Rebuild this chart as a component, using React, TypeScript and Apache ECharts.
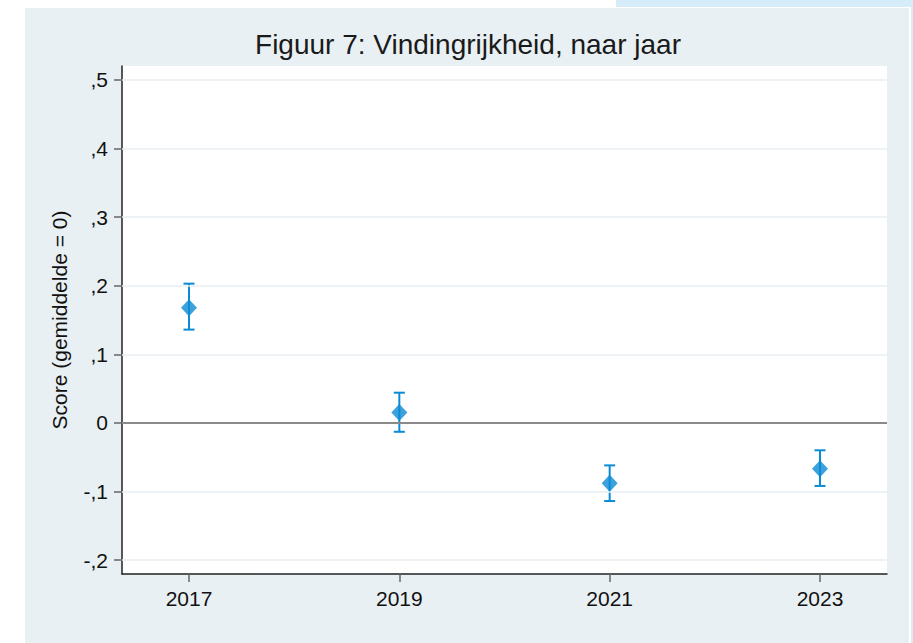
import React, { useEffect, useRef } from "react";
import * as echarts from "echarts";

const years = [2017, 2019, 2021, 2023];
const scores = [0.168, 0.015, -0.088, -0.067];
const lower = [0.136, -0.013, -0.114, -0.092];
const upper = [0.203, 0.044, -0.062, -0.040];
const yTicks = [-0.2, -0.1, 0, 0.1, 0.2, 0.3, 0.4, 0.5];
const titleText = "Figuur 7: Vindingrijkheid, naar jaar";
const yName = "Score (gemiddelde = 0)";

const BLUE = "#0a8bd4";
const FONT = "Liberation Sans, Arial, sans-serif";

function fmt(v: number): string {
  const r = Math.round(v * 10) / 10;
  if (Math.abs(r) < 1e-9) return "0";
  const s = Math.abs(r).toFixed(1).replace(/^0\./, ",");
  return (r < 0 ? "-" : "") + s;
}

export default function App() {
  const ref = useRef<HTMLDivElement>(null);
  useEffect(() => {
    if (!ref.current) return;
    const chart = echarts.init(ref.current, undefined, { renderer: "svg" });
    const option: any = {
      animation: false,
      backgroundColor: "#ffffff",
      graphic: [
        { type: "rect", z: -10, silent: true, shape: { x: 616, y: 0, width: 297, height: 7 }, style: { fill: "#d6ecf8" } },
        { type: "rect", z: -10, silent: true, shape: { x: 911, y: 7, width: 2, height: 636 }, style: { fill: "#d6ecf8" } },
        { type: "rect", z: -10, silent: true, shape: { x: 25, y: 8, width: 884, height: 635 }, style: { fill: "#e8f0f3" } },
        { type: "rect", z: -9, silent: true, shape: { x: 122, y: 66, width: 765, height: 508 }, style: { fill: "#ffffff" } },
        {
          type: "text",
          x: 468,
          y: 30,
          style: { text: titleText, font: `28px ${FONT}`, fill: "#1a1a1a", textAlign: "center", textVerticalAlign: "top" },
        },
      ],
      grid: { left: 122, top: 66, right: 26, bottom: 69, containLabel: false },
      xAxis: {
        type: "value",
        min: 2016.363,
        max: 2023.637,
        axisLine: { show: true, onZero: false, lineStyle: { color: "#222222", width: 1.5 } },
        axisTick: { show: true, length: 8, customValues: years, lineStyle: { color: "#666666", width: 1.5 } },
        axisLabel: {
          customValues: years,
          margin: 14,
          fontSize: 21,
          fontFamily: FONT,
          color: "#111111",
          formatter: (v: number) => String(Math.round(v)),
        },
        splitLine: { show: false },
      },
      yAxis: {
        type: "value",
        min: -0.2204,
        max: 0.5204,
        name: yName,
        nameLocation: "middle",
        nameGap: 52,
        nameTextStyle: { fontSize: 21, fontFamily: FONT, color: "#111111" },
        axisLine: { show: true, onZero: false, lineStyle: { color: "#222222", width: 1.5 } },
        axisTick: { show: true, length: 8, customValues: yTicks, lineStyle: { color: "#666666", width: 1.5 } },
        axisLabel: {
          customValues: yTicks,
          margin: 14,
          fontSize: 21,
          fontFamily: FONT,
          color: "#111111",
          formatter: (v: number) => fmt(v),
        },
        splitLine: { show: false },
      },
      series: [
        {
          type: "line",
          data: [],
          silent: true,
          markLine: {
            silent: true,
            symbol: "none",
            label: { show: false },
            animation: false,
            data: yTicks
              .filter((t) => t !== 0)
              .map((t) => ({ yAxis: t, lineStyle: { color: "#e6eef2", width: 1.5, type: "solid" } }))
              .concat([{ yAxis: 0, lineStyle: { color: "#8a8a8a", width: 2, type: "solid" } }] as any),
          },
        },
        {
          type: "custom",
          z: 3,
          data: years.map((y, i) => [y, lower[i], upper[i]]),
          renderItem: (params: any, api: any) => {
            const x = api.value(0);
            const lo = api.coord([x, api.value(1)]);
            const hi = api.coord([x, api.value(2)]);
            const cw = 5.5;
            const style = { stroke: BLUE, lineWidth: 2 };
            return {
              type: "group",
              children: [
                { type: "line", shape: { x1: lo[0], y1: lo[1], x2: hi[0], y2: hi[1] }, style },
                { type: "line", shape: { x1: lo[0] - cw, y1: lo[1], x2: lo[0] + cw, y2: lo[1] }, style },
                { type: "line", shape: { x1: hi[0] - cw, y1: hi[1], x2: hi[0] + cw, y2: hi[1] }, style },
              ],
            };
          },
        },
        {
          type: "scatter",
          z: 4,
          symbol: "diamond",
          symbolSize: [16, 17],
          itemStyle: { color: BLUE },
          data: years.map((y, i) => [y, scores[i]]),
        },
      ],
    };
    chart.setOption(option);
    return () => chart.dispose();
  }, []);
  return (
    <div
      ref={ref}
      style={{ position: "fixed", left: 0, top: 0, width: 913, height: 643 }}
    />
  );
}
